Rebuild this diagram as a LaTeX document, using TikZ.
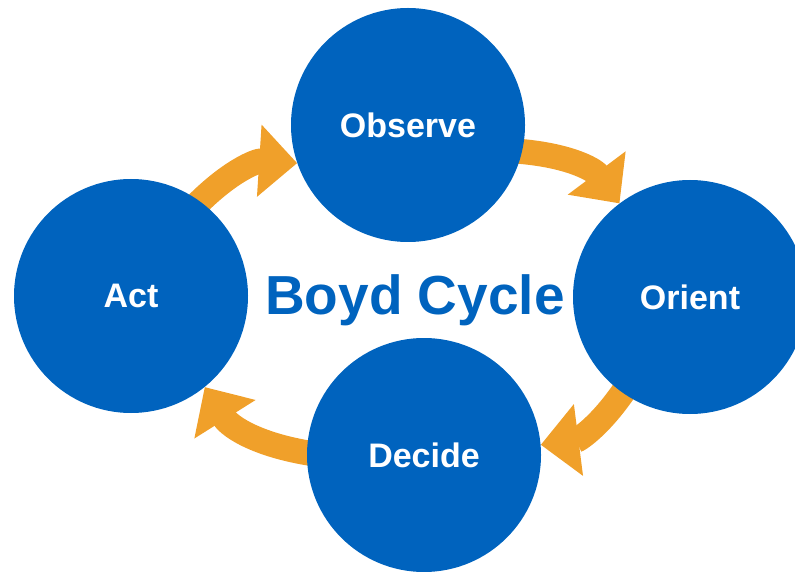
\documentclass[tikz,border=0pt]{standalone}
\usepackage{fontspec}
\setmainfont{Liberation Sans}
\usetikzlibrary{arrows.meta, backgrounds}

\definecolor{boydblue}{RGB}{0,99,190}
\definecolor{boydorange}{RGB}{240,160,42}

\begin{document}
\begin{tikzpicture}
  [x=1pt, y=1pt,
    >={Triangle[length=38pt, width=70pt]}]

  \tikzset{
    phase/.style={
      circle, fill=boydblue,
      minimum size=234pt, inner sep=0pt,
      text=white, font=\bfseries\fontsize{34}{38}\selectfont,
    },
    title/.style={
      anchor=base, inner sep=0pt,
      text=boydblue, font=\bfseries\fontsize{55}{60}\selectfont,
    },
    flow/.style={->, draw=boydorange, line width=25pt, shorten <=-12pt},
  }

  \useasboundingbox (0,0) rectangle (795,571);

  \node[phase] (observe) at (408,446) {Observe};
  \node[phase] (orient) at (690,274) {Orient};
  \node[phase] (decide) at (424,116) {Decide};
  \node[phase] (act) at (131,275) {Act};

  \node[title] (boyd) at (415,256) {Boyd Cycle};

  % the arrows run under the circles
  \begin{scope}[on background layer]
    \draw[flow] (act.54) to[bend left=25] (observe.199);
    \draw[flow] (observe.-13) to[bend left=25] (orient.127);
    \draw[flow] (orient.235) to[bend left=25] (decide.5);
    \draw[flow] (decide.179) to[bend left=25] (act.-51);
  \end{scope}
\end{tikzpicture}
\end{document}
